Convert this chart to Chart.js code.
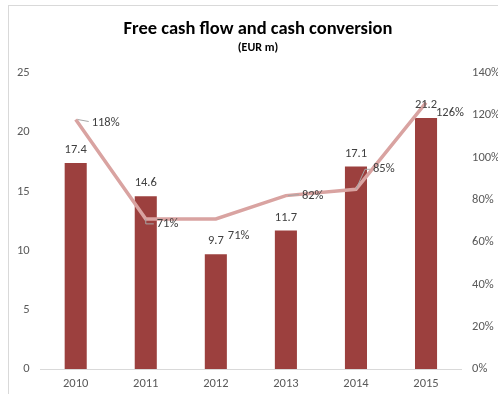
<!DOCTYPE html>
<html>
<head>
<meta charset="utf-8">
<script src="https://cdn.jsdelivr.net/npm/chart.js@4/dist/chart.umd.min.js"></script>
<style>
  html, body { margin: 0; padding: 0; background: #fff; overflow: hidden; }
  #wrap { position: relative; width: 498px; height: 394px; }
  #frame {
    position: absolute; left: 8px; top: 5px; width: 600px; height: 500px;
    border: 1px solid #d9d9d9; box-sizing: border-box; pointer-events: none;
  }
</style>
</head>
<body>
<div id="wrap">
  <canvas id="fcfChart" width="498" height="394"></canvas>
  <div id="frame"></div>
</div>
<script>
const years = ["2010", "2011", "2012", "2013", "2014", "2015"];
const freeCashFlow = [17.4, 14.6, 9.7, 11.7, 17.1, 21.2];
const cashConversion = [1.18, 0.71, 0.71, 0.82, 0.85, 1.26];
const leftTicks = [0, 5, 10, 15, 20, 25];
const rightTicks = [0, 0.2, 0.4, 0.6, 0.8, 1.0, 1.2, 1.4];

const FONT = "Calibri, Carlito, 'Liberation Sans', sans-serif";
const TEXT = "#595959";

// label offsets for the % labels (dx, dy from the point) + leader line style
const pctLabelPos = [
  { dx: 16, dy: 3, leader: "h" },
  { dx: 11, dy: 5, leader: "elbow" },
  { dx: 12, dy: 17, leader: null },
  { dx: 16, dy: 0, leader: "h" },
  { dx: 17, dy: -20, leader: "elbow" },
  { dx: 10, dy: 10, leader: null }
];

const labelsPlugin = {
  id: "labelsPlugin",
  afterDatasetsDraw(chart) {
    const ctx = chart.ctx;
    ctx.save();
    ctx.font = "12.5px " + FONT;
    ctx.fillStyle = "#404040";
    ctx.textBaseline = "middle";

    // bar values
    const barMeta = chart.getDatasetMeta(1);
    barMeta.data.forEach((bar, i) => {
      ctx.textAlign = "center";
      ctx.fillText(freeCashFlow[i].toFixed(1), bar.x, bar.y - 13);
    });

    // line values with leader lines
    const lineMeta = chart.getDatasetMeta(0);
    lineMeta.data.forEach((pt, i) => {
      const p = pctLabelPos[i];
      const lx = pt.x + p.dx;
      const ly = pt.y + p.dy;
      ctx.strokeStyle = "#a6a6a6";
      ctx.lineWidth = 1;
      if (p.leader === "h") {
        ctx.beginPath();
        ctx.moveTo(pt.x + 2, pt.y);
        ctx.lineTo(lx - 3, ly - 1);
        ctx.stroke();
      } else if (p.leader === "elbow") {
        ctx.beginPath();
        ctx.moveTo(pt.x, pt.y);
        ctx.lineTo(pt.x + (p.dy < 0 ? p.dx - 8 : 0), ly);
        ctx.lineTo(lx - 3, ly);
        ctx.stroke();
      }
      ctx.textAlign = "left";
      ctx.fillText(Math.round(cashConversion[i] * 100) + "%", lx, ly);
    });

    // title
    ctx.fillStyle = "#000";
    ctx.textAlign = "center";
    ctx.font = "bold 18.5px " + FONT;
    ctx.fillText("Free cash flow and cash conversion", 258, 29);
    ctx.font = "bold 12px " + FONT;
    ctx.fillText("(EUR m)", 258, 48);
    ctx.restore();
  }
};

const tickFont = { family: FONT, size: 12.5 };

new Chart(document.getElementById("fcfChart"), {
  data: {
    labels: years,
    datasets: [
      {
        type: "line",
        label: "Cash conversion",
        data: cashConversion,
        yAxisID: "y1",
        borderColor: "#d9a3a1",
        borderWidth: 3.5,
        pointRadius: 0,
        tension: 0,
        order: 0
      },
      {
        type: "bar",
        label: "Free cash flow",
        data: freeCashFlow,
        yAxisID: "y",
        backgroundColor: "#9c403e",
        barPercentage: 0.315,
        categoryPercentage: 1,
        order: 1
      }
    ]
  },
  options: {
    responsive: false,
    animation: false,
    layout: { padding: { top: 73, left: 6, right: -13, bottom: -4 } },
    plugins: {
      legend: { display: false },
      tooltip: { enabled: false }
    },
    scales: {
      x: {
        offset: true,
        grid: { display: false, drawTicks: false },
        border: { color: "#d9d9d9" },
        ticks: { color: TEXT, font: tickFont, padding: 7, maxRotation: 0 },
        afterFit: axis => { axis.paddingLeft = 0; axis.paddingRight = 0; }
      },
      y: {
        position: "left",
        min: 0, max: 25,
        afterBuildTicks: axis => { axis.ticks = leftTicks.map(v => ({ value: v })); },
        grid: { display: false, drawTicks: false },
        border: { display: false },
        ticks: { color: TEXT, font: tickFont, padding: 11 }
      },
      y1: {
        position: "right",
        min: 0, max: 1.4,
        afterBuildTicks: axis => { axis.ticks = rightTicks.map(v => ({ value: v })); },
        grid: { display: false, drawTicks: false },
        border: { display: false },
        ticks: {
          color: TEXT, font: tickFont, padding: 11,
          callback: v => Math.round(v * 100) + "%"
        }
      }
    }
  },
  plugins: [labelsPlugin]
});
</script>
</body>
</html>
